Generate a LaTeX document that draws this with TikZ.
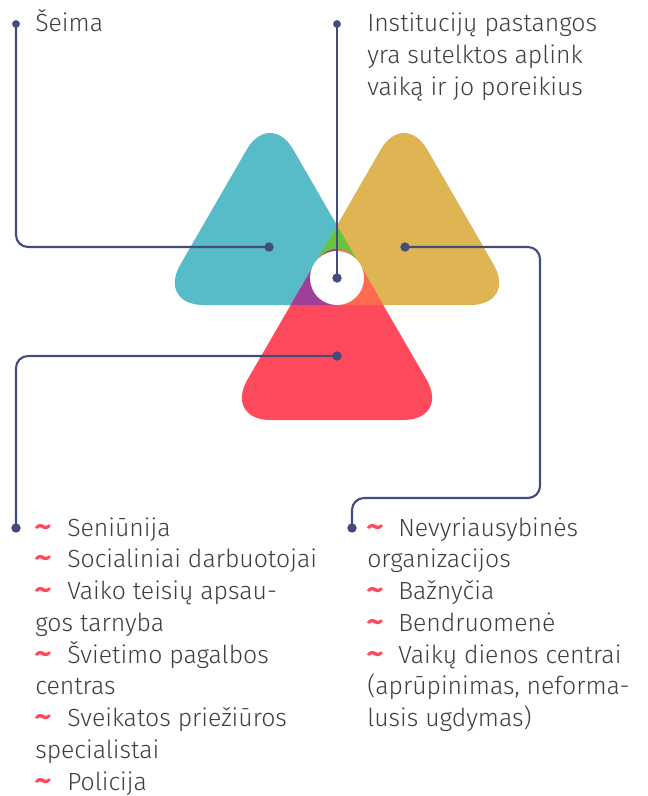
\documentclass[tikz,border=0pt]{standalone}
\usepackage{fontspec}
\setmainfont{Fira Sans}[UprightFont=* Light]
\newfontfamily\bulfont{Fira Sans}[FakeStretch=1.15]
\definecolor{cblue}{HTML}{57BCC8}
\definecolor{cgold}{HTML}{DFB553}
\definecolor{cred}{HTML}{FF4A5E}
\definecolor{cgreen}{HTML}{66C43F}
\definecolor{cpurple}{HTML}{A03F98}
\definecolor{corange}{HTML}{FF6B4F}
\definecolor{cline}{HTML}{434C7A}
\definecolor{ctext}{HTML}{3E3E3E}
\definecolor{cbul}{HTML}{FF4A5E}
\tikzset{
  conn/.style={draw=cline, line width=1.6pt, rounded corners=9pt},
  dot/.style={circle, fill=cline, inner sep=0pt, minimum size=6.8pt},
  dotsm/.style={circle, fill=cline, inner sep=0pt, minimum size=5.6pt},
  txt/.style={anchor=base west, inner sep=0pt, text=ctext, font=\fontsize{18.6pt}{23.8pt}\selectfont},
  bul/.style={anchor=base west, inner sep=0pt, text=cbul, font=\bulfont\bfseries\fontsize{22pt}{24pt}\selectfont},
}
\def\bluetri{[rounded corners=35pt] (270,305) -- (383,305) -- (270,109.3) -- (157,305) -- cycle}
\def\goldtri{[rounded corners=35pt] (404,305) -- (517,305) -- (404,109.3) -- (291,305) -- cycle}
\def\redtri{[rounded corners=35pt] (337,420) -- (450,420) -- (337,225.3) -- (224,420) -- cycle}
\begin{document}
\begin{tikzpicture}[x=0.75pt, y=-0.75pt]
\useasboundingbox (0,0) rectangle (647,796);
% shapes
\fill[cblue] \bluetri;
\fill[cgold] \goldtri;
\begin{scope}
  \clip \bluetri;
  \fill[cgreen] \goldtri;
\end{scope}
\fill[cred] \redtri;
\begin{scope}
  \clip \redtri;
  \clip \bluetri;
  \fill[cpurple] (0,0) rectangle (337,796);
\end{scope}
\begin{scope}
  \clip \redtri;
  \clip \goldtri;
  \fill[corange] (337,0) rectangle (647,796);
\end{scope}
\fill[white] (337,278) circle[radius=27];
% dots
\node[dotsm] (d1) at (16,24) {};
\node[dot] (d2) at (269,247) {};
\node[dotsm] (d3) at (337,24) {};
\node[dot] (d4) at (337,278) {};
\node[dot] (d5) at (405,247) {};
\node[dot] (d6) at (352,528) {};
\node[dot] (d7) at (337,356) {};
\node[dot] (d8) at (16,528) {};
% connectors
\draw[conn] (d1.center) |- (d2.center);
\draw[conn] (d3.center) -- (d4.center);
\draw[conn] (d5.center) -- (540,247) -- (540,498) -- (352,498) -- (d6.center);
\draw[conn] (d7.center) -| (d8.center);
\node[dotsm] at (d1) {};
\node[dot] at (d2) {};
\node[dotsm] at (d3) {};
\node[dot] at (d4) {};
\node[dot] at (d5) {};
\node[dot] at (d6) {};
\node[dot] at (d7) {};
\node[dot] at (d8) {};
% top texts
\node[txt] (seima) at (35,31.5) {Šeima};
\node[txt] (i1) at (367,31.5) {Institucijų pastangos};
\node[txt] (i2) at (367,63.25) {yra sutelktos aplink};
\node[txt] (i3) at (367,95) {vaiką ir jo poreikius};
% left list
\node[bul] (lb1) at (34,536) {\textasciitilde};
\node[txt] (l1) at (67,536) {Seniūnija};
\node[bul] (lb2) at (34,567.75) {\textasciitilde};
\node[txt] (l2) at (67,567.75) {Socialiniai darbuotojai};
\node[bul] (lb3) at (34,599.5) {\textasciitilde};
\node[txt] (l3) at (67,599.5) {Vaiko teisių apsau-};
\node[txt] (l4) at (35,631.25) {gos tarnyba};
\node[bul] (lb5) at (34,663) {\textasciitilde};
\node[txt] (l5) at (67,663) {Švietimo pagalbos};
\node[txt] (l6) at (35,694.75) {centras};
\node[bul] (lb7) at (34,726.5) {\textasciitilde};
\node[txt] (l7) at (67,726.5) {Sveikatos priežiūros};
\node[txt] (l8) at (35,758.25) {specialistai};
\node[bul] (lb9) at (34,790) {\textasciitilde};
\node[txt] (l9) at (67,790) {Policija};
% right list
\node[bul] (rb1) at (366,536) {\textasciitilde};
\node[txt] (r1) at (398,536) {Nevyriausybinės};
\node[txt] (r2) at (367,567.75) {organizacijos};
\node[bul] (rb3) at (366,599.5) {\textasciitilde};
\node[txt] (r3) at (398,599.5) {Bažnyčia};
\node[bul] (rb4) at (366,631.25) {\textasciitilde};
\node[txt] (r4) at (398,631.25) {Bendruomenė};
\node[bul] (rb5) at (366,663) {\textasciitilde};
\node[txt] (r5) at (398,663) {Vaikų dienos centrai};
\node[txt] (r6) at (367,694.75) {(aprūpinimas, neforma-};
\node[txt] (r7) at (367,726.5) {lusis ugdymas)};
\end{tikzpicture}
\end{document}
